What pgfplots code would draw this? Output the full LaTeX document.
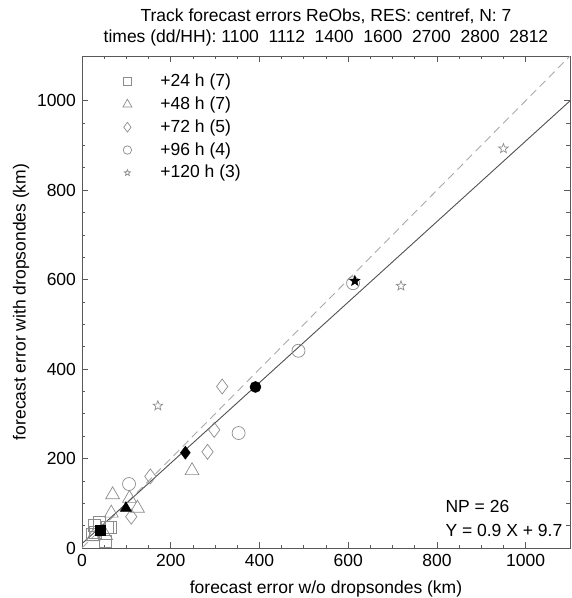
\documentclass[border=0pt]{standalone}
\usepackage{fontspec}
\setmainfont{Liberation Sans}
\usepackage{pgfplots}
\pgfplotsset{compat=1.18}
\definecolor{mgray}{HTML}{8C8C8C}
\definecolor{lgray}{HTML}{AAAAAA}
\definecolor{dgray}{HTML}{505050}
\pgfdeclareplotmark{ostar}{%
  \pgfpathmoveto{\pgfpointpolar{90}{\pgfplotmarksize}}%
  \pgfpathlineto{\pgfpointpolar{126}{0.42\pgfplotmarksize}}%
  \pgfpathlineto{\pgfpointpolar{162}{\pgfplotmarksize}}%
  \pgfpathlineto{\pgfpointpolar{198}{0.42\pgfplotmarksize}}%
  \pgfpathlineto{\pgfpointpolar{234}{\pgfplotmarksize}}%
  \pgfpathlineto{\pgfpointpolar{270}{0.42\pgfplotmarksize}}%
  \pgfpathlineto{\pgfpointpolar{306}{\pgfplotmarksize}}%
  \pgfpathlineto{\pgfpointpolar{342}{0.42\pgfplotmarksize}}%
  \pgfpathlineto{\pgfpointpolar{18}{\pgfplotmarksize}}%
  \pgfpathlineto{\pgfpointpolar{54}{0.42\pgfplotmarksize}}%
  \pgfpathclose\pgfusepathqstroke}
\pgfdeclareplotmark{fstar}{%
  \pgfpathmoveto{\pgfpointpolar{90}{\pgfplotmarksize}}%
  \pgfpathlineto{\pgfpointpolar{126}{0.42\pgfplotmarksize}}%
  \pgfpathlineto{\pgfpointpolar{162}{\pgfplotmarksize}}%
  \pgfpathlineto{\pgfpointpolar{198}{0.42\pgfplotmarksize}}%
  \pgfpathlineto{\pgfpointpolar{234}{\pgfplotmarksize}}%
  \pgfpathlineto{\pgfpointpolar{270}{0.42\pgfplotmarksize}}%
  \pgfpathlineto{\pgfpointpolar{306}{\pgfplotmarksize}}%
  \pgfpathlineto{\pgfpointpolar{342}{0.42\pgfplotmarksize}}%
  \pgfpathlineto{\pgfpointpolar{18}{\pgfplotmarksize}}%
  \pgfpathlineto{\pgfpointpolar{54}{0.42\pgfplotmarksize}}%
  \pgfpathclose\pgfusepathqfillstroke}
\pgfplotsset{
  oleg/.style={legend image code/.code={%
    \path[draw=none, fill=none] (0pt,-4pt) (41pt,4pt);
    \draw[##1,/tikz/every mark/.append style={scale=0.65}] plot coordinates {(10pt,0pt)};}},
  omk/.style={only marks, mgray, mark options={line width=0.7pt, fill=none}, oleg},
  fmk/.style={only marks, black, mark options={fill=black, draw=black, line width=0.5pt}, forget plot},
}
\begin{document}
\fontsize{17.5}{21}\selectfont
\begin{tikzpicture}
\begin{axis}[
  at={(0,0)}, anchor=south west,
  scale only axis, width=488pt, height=492pt,
  xmin=0, xmax=1100, ymin=0, ymax=1100,
  xtick={0,200,...,1000}, ytick={0,200,...,1000},
  minor tick num=3,
  tick align=inside,
  major tick length=6pt, minor tick length=3.5pt,
  axis line style={black!65, line width=0.8pt},
  every tick/.style={black!65, line width=0.7pt},
  /pgf/number format/assume math mode=true,
  /pgf/number format/1000 sep={},
  tick label style={font=\fontsize{17.5}{21}\selectfont},
  xlabel={forecast error w/o dropsondes (km)},
  ylabel={forecast error with dropsondes (km)},
  xlabel style={font=\fontsize{17.5}{21}\selectfont, yshift=-3pt},
  ylabel style={font=\fontsize{17.5}{21}\selectfont, yshift=-4pt},
  title={Track forecast errors ReObs, RES: centref, N: 7\\times (dd/HH): 1100\ \ 1112\ \ 1400\ \ 1600\ \ 2700\ \ 2800\ \ 2812},
  title style={align=center, font=\fontsize{17.5}{21}\selectfont, yshift=-2pt},
  legend style={draw=none, fill=none, at={(0.066,0.972)}, anchor=north west,
    font=\fontsize{17.5}{21}\selectfont, row sep=3.5pt},
  legend cell align=left,
]
\addplot[dashed, lgray, line width=0.9pt, dash pattern=on 8pt off 5pt, forget plot] coordinates {(0,0) (1100,1100)};
\addplot[dgray, line width=0.9pt, forget plot] coordinates {(0,9.7) (1100,999.7)};

\addplot[omk, mark=square, mark size=6pt] coordinates {(27,50) (31,35) (53,14) (64,46) (38,57) (23,31) (58,47)};
\addlegendentry{+24 h (7)}
\addplot[omk, mark=triangle, mark size=8pt] coordinates {(69,119) (107,111) (125,89) (66,78) (25,25) (248,173) (53,28)};
\addlegendentry{+48 h (7)}
\addplot[omk, mark=diamond, mark size=7.5pt] coordinates {(154,160) (111,70) (283,215) (316,361) (298,264)};
\addlegendentry{+72 h (5)}
\addplot[omk, mark=o, mark size=6.5pt] coordinates {(106,143) (353,257) (488,441) (611,592)};
\addlegendentry{+96 h (4)}
\addplot[omk, mark=ostar, mark size=5pt] coordinates {(171,318) (950,893) (719,586)};
\addlegendentry{+120 h (3)}

\addplot[fmk, mark=square*, mark size=5pt] coordinates {(42,40)};
\addplot[fmk, mark=triangle*, mark size=6.5pt] coordinates {(99,89)};
\addplot[fmk, mark=diamond*, mark size=6.5pt] coordinates {(233,213)};
\addplot[fmk, mark=*, mark size=5.5pt] coordinates {(391,360)};
\addplot[fmk, mark=fstar, mark size=5.5pt] coordinates {(615,597)};

\node[anchor=west, inner sep=0pt] at (axis cs:819,92) {NP = 26};
\node[anchor=west, inner sep=0pt] at (axis cs:819,40) {Y = 0.9 X + 9.7};
\end{axis}
\pgfresetboundingbox
\useasboundingbox (-82pt,-50pt) rectangle (490pt,548pt);
\end{tikzpicture}
\end{document}
